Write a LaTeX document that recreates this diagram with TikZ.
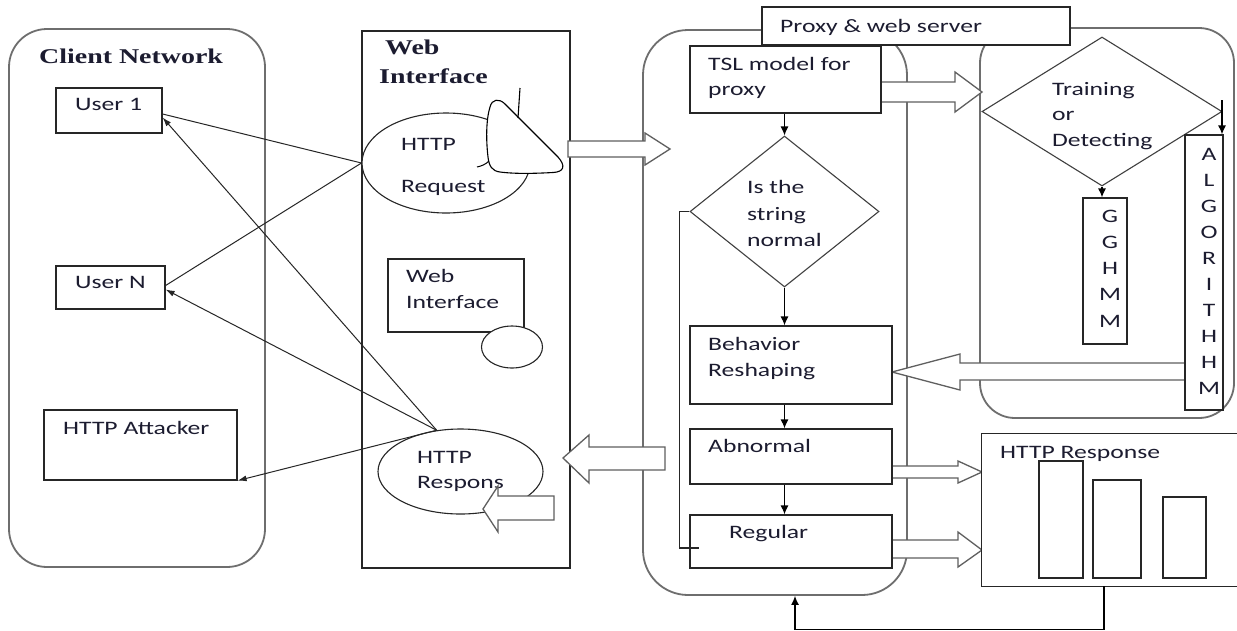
\documentclass[tikz,border=0pt]{standalone}
\usepackage{fontspec}
\setmainfont{Carlito}[FakeStretch=1.35]
\newfontfamily\headfont{Liberation Serif}[FakeStretch=1.33]
\usetikzlibrary{shapes.geometric,arrows.meta,calc}
\definecolor{txtc}{RGB}{28,28,48}
\definecolor{framec}{RGB}{110,110,110}
\definecolor{blockc}{RGB}{95,95,95}
\begin{document}
\begin{tikzpicture}[x=1pt,y=-1pt,
  container/.style={draw=framec, line width=1.8pt, inner sep=0pt},
  boxnode/.style={rectangle, draw=black!85, line width=1.2pt, fill=white, inner sep=0pt},
  oval/.style={ellipse, draw=black!85, line width=1.1pt, fill=white, inner sep=0pt},
  rhomb/.style={diamond, draw=black!75, line width=1.1pt, fill=white, inner sep=0pt},
  lbl/.style={inner sep=0pt, anchor=base west, text=txtc, font=\fontsize{19}{26}\selectfont},
  letter/.style={inner sep=0pt, anchor=base, text=txtc, font=\fontsize{19}{26}\selectfont},
  head/.style={inner sep=0pt, anchor=base west, text=txtc, font=\headfont\bfseries\fontsize{21}{24}\selectfont},
  blockarrow/.style={draw=blockc, line width=1.3pt, fill=white, line join=miter},
  flow/.style={draw=black, line width=1.2pt, -{Latex[length=9pt,width=8pt]}},
  wire/.style={draw=black!85, line width=1pt},
  wirearrow/.style={wire, -{Latex[length=9pt,width=6pt]}}
]
\fill[white] (0,0) rectangle (1237,630);
\useasboundingbox (0,0) rectangle (1237,630);

% ---------- containers ----------
\node[container, rounded corners=38pt, minimum width=256pt, minimum height=538pt] (client) at (137,298) {};
\node[container, rounded corners=45pt, minimum width=264pt, minimum height=565pt] (proxy) at (775,312.5) {};
\node[container, rounded corners=35pt, minimum width=254pt, minimum height=390pt] (engine) at (1107,223) {};
\node[rectangle, draw=black!85, line width=1.2pt, inner sep=0pt, minimum width=208pt, minimum height=537pt] (panel) at (466,299.5) {};
\node[boxnode, minimum width=308pt, minimum height=38pt] (tab) at (916,26) {};
\node[lbl] (tabtxt) at (780,32) {Proxy \& web server};

% ---------- wide block arrows ----------
\draw[blockarrow] (568,141) -- (645,141) -- (645,133) -- (670,149) -- (645,165) -- (645,157) -- (568,157) -- cycle;
\draw[blockarrow] (665,447) -- (589,447) -- (589,435) -- (563,458) -- (589,483) -- (589,470) -- (665,470) -- cycle;
\draw[blockarrow] (881,82) -- (955,82) -- (955,72) -- (982,92) -- (955,112) -- (955,102) -- (881,102) -- cycle;
\draw[blockarrow] (1185,363) -- (960,363) -- (960,354) -- (892,372) -- (960,390) -- (960,380) -- (1185,380) -- cycle;
\draw[blockarrow] (892,466) -- (958,466) -- (958,461) -- (982,472) -- (958,483) -- (958,478) -- (892,478) -- cycle;
\draw[blockarrow] (892,540) -- (958,540) -- (958,532) -- (982,550) -- (958,567) -- (958,558) -- (892,558) -- cycle;

% ---------- client network ----------
\node[head] (clienttitle) at (39,63) {Client Network};
\node[boxnode, minimum width=106pt, minimum height=45pt] (u1) at (109,110.5) {};
\node[lbl] (u1txt) at (75,110) {User 1};
\node[boxnode, minimum width=109pt, minimum height=43pt] (uN) at (110.5,287.5) {};
\node[lbl] (uNtxt) at (75,288) {User N};
\node[boxnode, minimum width=193pt, minimum height=70pt] (att) at (140.5,445) {};
\node[lbl] (atttxt) at (63,434) {HTTP Attacker};

% ---------- web interface ----------
\node[head] (webt1) at (385,54) {Web};
\node[head] (webt2) at (379,83) {Interface};
\node[oval, minimum width=168pt, minimum height=100pt] (req) at (446,163) {};
\node[lbl] (reqt1) at (401,150) {HTTP};
\node[lbl] (reqt2) at (401,192) {Request};
% dish-like sketch on the request bubble
\draw[line width=1.1pt, fill=white] (490,107) .. controls (492,99) and (499,98) .. (505,104)
  -- (558,157) .. controls (566,166) and (564,172) .. (553,172.5)
  .. controls (535,173.5) and (515,174) .. (500,172)
  .. controls (492,171) and (489,166) .. (488,157)
  .. controls (486,140) and (486,120) .. (490,107) -- cycle;
\draw[line width=1.1pt] (520,88) -- (518,118);
\draw[line width=1pt] (477,167) .. controls (482,166) and (486,164) .. (489,161);

\node[boxnode, minimum width=136pt, minimum height=73pt] (wibox) at (456,295.5) {};
\node[lbl] (wit1) at (406,282) {Web};
\node[lbl] (wit2) at (406,308) {Interface};
\node[oval, minimum width=61pt, minimum height=42pt] (wicirc) at (512,347) {};

\node[oval, minimum width=165pt, minimum height=85pt] (resp) at (460.5,471.5) {};
\node[lbl] (respt1) at (417,463) {HTTP};
\node[lbl] (respt2) at (417,488) {Respons};
\draw[blockarrow] (554,496) -- (498,496) -- (498,486) -- (483,509) -- (498,532) -- (498,520) -- (554,520) -- cycle;

% ---------- proxy flow ----------
\node[boxnode, minimum width=191pt, minimum height=67pt] (tsl) at (785.5,79.5) {};
\node[lbl] (tslt1) at (708,70) {TSL model for};
\node[lbl] (tslt2) at (708,95) {proxy};
\node[rhomb, minimum width=189pt, minimum height=151pt] (isn) at (784.5,211.5) {};
\node[lbl] (isnt1) at (747,193) {Is the};
\node[lbl] (isnt2) at (747,220) {string};
\node[lbl] (isnt3) at (747,246) {normal};
\node[boxnode, minimum width=202pt, minimum height=78pt] (beh) at (791,365) {};
\node[lbl] (beht1) at (708,350) {Behavior};
\node[lbl] (beht2) at (708,376) {Reshaping};
\node[boxnode, minimum width=202pt, minimum height=55pt] (abn) at (791,456.5) {};
\node[lbl] (abnt) at (708,452) {Abnormal};
\node[boxnode, minimum width=202pt, minimum height=53pt] (reg) at (791,541.5) {};
\node[lbl] (regt) at (729,538) {Regular};

% ---------- detection engine ----------
\node[rhomb, minimum width=240pt, minimum height=149pt] (train) at (1102,111.5) {};
\node[lbl] (trt1) at (1052,95) {Training};
\node[lbl] (trt2) at (1052,120) {or};
\node[lbl] (trt3) at (1052,146) {Detecting};
\node[boxnode, minimum width=44pt, minimum height=146pt] (gg) at (1105,271) {};
\foreach \ch [count=\i from 0] in {G,G,H,M,M}
  \node[letter] (gg\i) at (1110,222+26.3*\i) {\ch};
\node[boxnode, minimum width=38pt, minimum height=275pt] (alg) at (1204,272.5) {};
\foreach \ch [count=\i from 0] in {A,L,G,O,R,I,T,H,H,M}
  \node[letter] (alg\i) at (1209,160+26*\i) {\ch};

% ---------- HTTP response ----------
\node[rectangle, fill=white, inner sep=0pt, minimum width=260pt, minimum height=152pt] (hresp) at (1112,510) {};
\draw[draw=black!85, line width=1.2pt] (hresp.north east) -- (hresp.north west) -- (hresp.south west) -- (hresp.south east);
\node[lbl] (hresptxt) at (1000,458) {HTTP Response};
\node[boxnode, minimum width=44pt, minimum height=117pt] (bar1) at (1061,519.5) {};
\node[boxnode, minimum width=48pt, minimum height=98pt] (bar2) at (1117,529) {};
\node[boxnode, minimum width=43pt, minimum height=81pt] (bar3) at (1184.5,537.5) {};

% ---------- connectors ----------
\draw[flow] (tsl.south -| isn.north) -- (isn.north);
\draw[flow] (isn.south) -- (isn.south |- beh.north);
\draw[flow] (isn.south |- beh.south) -- (isn.south |- abn.north);
\draw[flow] (isn.south |- abn.south) -- (isn.south |- reg.north);
\draw[wire, line width=1.1pt] (isn.west) -- ++(-10,0) |- ($(reg.west)+(10,6.5)$);
\draw[flow] (train.south) -- (train.south |- gg.north);
\coordinate (algIn) at (1222,100);
\draw[flow] (algIn) -- (algIn |- alg.north);
\draw[flow] ([xshift=-8pt]hresp.south) -- ++(0,43) -| ([xshift=20pt]proxy.south);

\draw[wire] (req.west) -- ([yshift=-3.5pt]u1.east);
\draw[wire] (req.west) -- ([yshift=2pt]uN.east);
\draw[wirearrow] (resp.120) -- ([yshift=-7pt]u1.east);
\draw[wirearrow] (resp.120) -- ([yshift=-2pt]uN.east);
\draw[wirearrow] (resp.120) -- (att.south east);
\end{tikzpicture}
\end{document}
